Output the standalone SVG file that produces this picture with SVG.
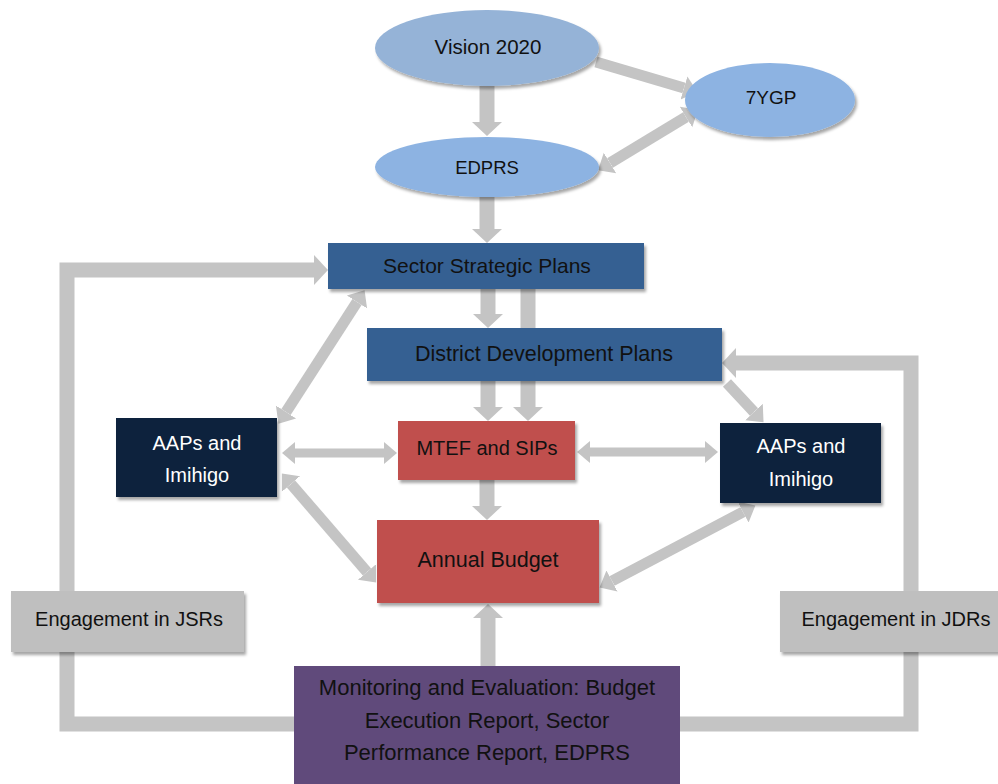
<svg xmlns="http://www.w3.org/2000/svg" width="998" height="784" viewBox="0 0 998 784">
<style>
text{font-family:"Liberation Sans",Arial,sans-serif;text-anchor:middle;fill:#111}
.w{fill:#fff}
.c{fill:none;stroke:#c4c4c4;stroke-linejoin:miter;stroke-linecap:butt}
.big{stroke-width:15}
.mid{stroke-width:11}
.sm{stroke-width:9}
.lb{fill:#366092}
.nv{fill:#10243e}
.rd{fill:#c0504d}
.gy{fill:#bfbfbf}
.pu{fill:#604a7b}
</style>
<defs>
<filter id="sh" x="-10%" y="-10%" width="130%" height="140%">
<feDropShadow dx="2" dy="3" stdDeviation="1.5" flood-color="#000" flood-opacity="0.35"/>
</filter>
<marker id="ab" markerUnits="userSpaceOnUse" viewBox="0 -16 16 32" markerWidth="16" markerHeight="32" refX="0" refY="0" orient="auto-start-reverse">
<path d="M0,-15 L14,0 L0,15 z" fill="#c4c4c4"/>
</marker>
<marker id="am" markerUnits="userSpaceOnUse" viewBox="0 -16 16 32" markerWidth="16" markerHeight="32" refX="0" refY="0" orient="auto-start-reverse">
<path d="M0,-12 L14,0 L0,12 z" fill="#c4c4c4"/>
</marker>
<marker id="as" markerUnits="userSpaceOnUse" viewBox="0 -16 16 32" markerWidth="16" markerHeight="32" refX="0" refY="0" orient="auto-start-reverse">
<path d="M0,-11 L13,0 L0,11 z" fill="#c4c4c4"/>
</marker>
</defs>

<g id="connectors">
<line class="c big" x1="487" y1="86" x2="487" y2="122" marker-end="url(#ab)"/>
<line class="c mid" x1="596" y1="62" x2="684" y2="88" marker-end="url(#am)"/>
<line class="c mid" x1="610" y1="163" x2="686" y2="117" marker-start="url(#am)" marker-end="url(#am)"/>
<line class="c big" x1="487" y1="196" x2="487" y2="229" marker-end="url(#ab)"/>
<line class="c big" x1="488" y1="289" x2="488" y2="314" marker-end="url(#ab)"/>
<line class="c big" x1="528" y1="289" x2="528" y2="407" marker-end="url(#ab)"/>
<line class="c big" x1="488" y1="381" x2="488" y2="407" marker-end="url(#ab)"/>
<line class="c big" x1="487" y1="480" x2="487" y2="506" marker-end="url(#ab)"/>
<line class="c big" x1="488" y1="666" x2="488" y2="618" marker-end="url(#ab)"/>
<path class="c big" d="M294,724 H67 V652"/>
<path class="c big" d="M67,591 V270 H314" marker-end="url(#ab)"/>
<path class="c big" d="M680,724 H911 V652"/>
<path class="c big" d="M911,591 V363 H736" marker-end="url(#ab)"/>
<line class="c mid" x1="357" y1="302" x2="286" y2="412" marker-start="url(#am)" marker-end="url(#am)"/>
<line class="c mid" x1="727" y1="383" x2="754" y2="412" marker-end="url(#am)"/>
<line class="c sm" x1="295" y1="453" x2="384" y2="453" marker-start="url(#as)" marker-end="url(#as)"/>
<line class="c sm" x1="590" y1="452" x2="705" y2="452" marker-start="url(#as)" marker-end="url(#as)"/>
<line class="c mid" x1="367" y1="572" x2="291" y2="484" marker-start="url(#am)" marker-end="url(#am)"/>
<line class="c mid" x1="612" y1="581" x2="743" y2="512" marker-start="url(#am)" marker-end="url(#am)"/>
</g>

<g id="vision2020">
<ellipse cx="487" cy="48" rx="112" ry="38" fill="#95b3d7" filter="url(#sh)"/>
<text x="488" y="54" font-size="20.5">Vision 2020</text>
</g>
<g id="ygp7">
<ellipse cx="770" cy="100" rx="85" ry="37" fill="#8db3e2" filter="url(#sh)"/>
<text x="771" y="104" font-size="19">7YGP</text>
</g>
<g id="edprs">
<ellipse cx="487" cy="167" rx="112" ry="30" fill="#8db3e2" filter="url(#sh)"/>
<text x="487" y="174" font-size="18.5">EDPRS</text>
</g>
<g id="ssp">
<rect x="328" y="243" width="316" height="46" class="lb" filter="url(#sh)"/>
<text x="487" y="273" font-size="21">Sector Strategic Plans</text>
</g>
<g id="ddp">
<rect x="367" y="328" width="355" height="53" class="lb" filter="url(#sh)"/>
<text x="544" y="361" font-size="21.5">District Development Plans</text>
</g>
<g id="mtef">
<rect x="398" y="421" width="177" height="59" class="rd" filter="url(#sh)"/>
<text x="487" y="455" font-size="20">MTEF and SIPs</text>
</g>
<g id="annual">
<rect x="377" y="520" width="222" height="83" class="rd" filter="url(#sh)"/>
<text x="488" y="567" font-size="21.5">Annual Budget</text>
</g>
<g id="aapsLeft">
<rect x="116" y="418" width="161" height="79" class="nv" filter="url(#sh)"/>
<text x="197" y="450" font-size="20" class="w">AAPs and</text>
<text x="197" y="482" font-size="20" class="w">Imihigo</text>
</g>
<g id="aapsRight">
<rect x="720" y="423" width="161" height="80" class="nv" filter="url(#sh)"/>
<text x="801" y="453" font-size="20" class="w">AAPs and</text>
<text x="801" y="486" font-size="20" class="w">Imihigo</text>
</g>
<g id="jsrs">
<rect x="11" y="591" width="233" height="61" class="gy" filter="url(#sh)"/>
<text x="129" y="626" font-size="20">Engagement in JSRs</text>
</g>
<g id="jdrs">
<rect x="780" y="591" width="222" height="61" class="gy" filter="url(#sh)"/>
<text x="896" y="626" font-size="20">Engagement in JDRs</text>
</g>
<g id="me">
<rect x="294" y="666" width="386" height="130" class="pu"/>
<text x="487" y="695" font-size="22">Monitoring and Evaluation: Budget</text>
<text x="487" y="728" font-size="22">Execution Report, Sector</text>
<text x="487" y="760" font-size="22">Performance Report, EDPRS</text>
</g>
</svg>
